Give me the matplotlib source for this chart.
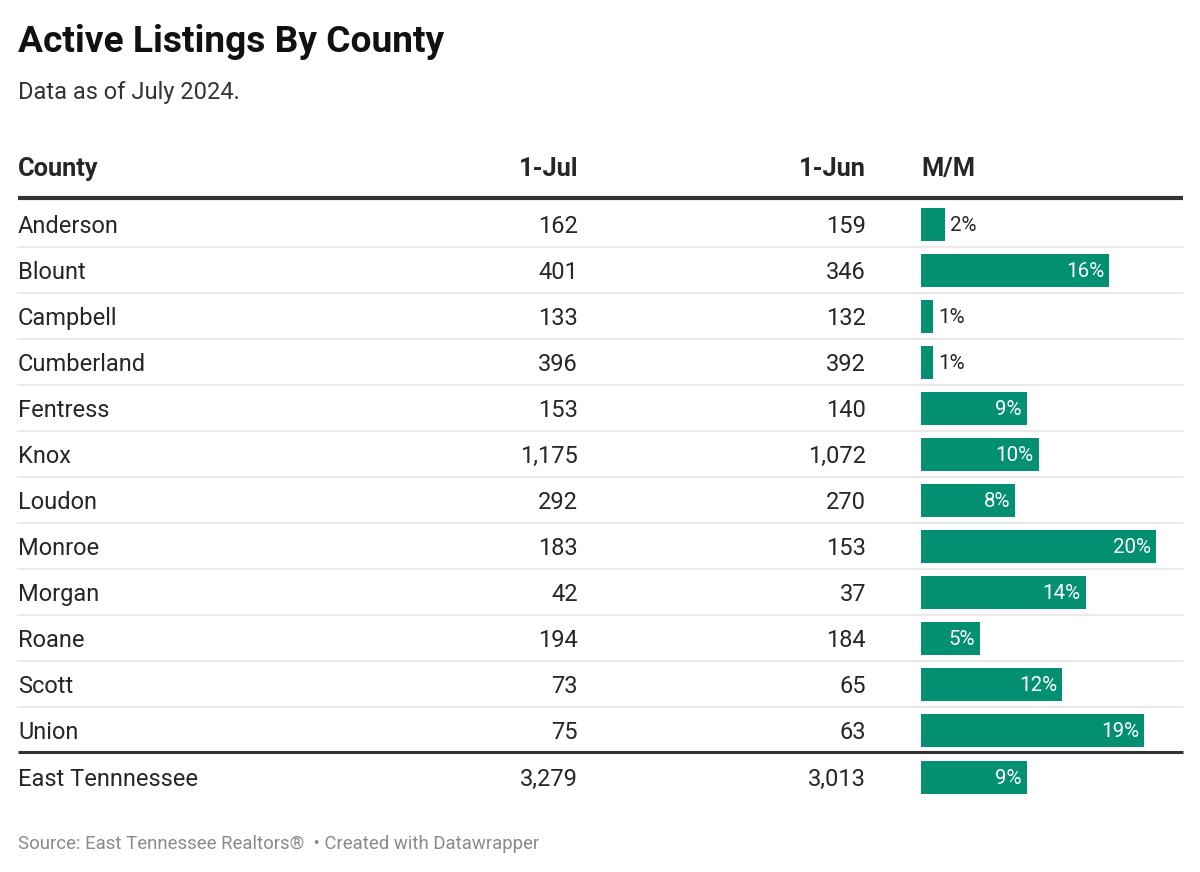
import matplotlib.pyplot as plt

plt.rcParams['font.family'] = ['Roboto', 'DejaVu Sans']

# data
counties = ["Anderson", "Blount", "Campbell", "Cumberland", "Fentress", "Knox",
            "Loudon", "Monroe", "Morgan", "Roane", "Scott", "Union"]
jul = [162, 401, 133, 396, 153, 1175, 292, 183, 42, 194, 73, 75]
jun = [159, 346, 132, 392, 140, 1072, 270, 153, 37, 184, 65, 63]
mm = [2, 16, 1, 1, 9, 10, 8, 20, 14, 5, 12, 19]
total_name = "East Tennnessee"
total_jul = 3279
total_jun = 3013
total_mm = 9
columns = ["County", "1-Jul", "1-Jun", "M/M"]

W, H = 1200, 872
fig = plt.figure(figsize=(W / 100, H / 100), dpi=100)
fig.patch.set_facecolor('white')

ax = fig.add_axes([0, 0, 1, 1])
ax.set_xlim(0, W)
ax.set_ylim(H, 0)
ax.axis('off')

# bar column: 0..20 % spans x 921..1156 px
bx0, bx1 = 921, 1156
bax = fig.add_axes([bx0 / W, 0, (bx1 - bx0) / W, 1])
bax.set_xlim(0, 20)
bax.set_ylim(H, 0)
bax.axis('off')

TXT = '#262626'
GREEN = '#038f72'
row0, step = 224, 46
x_name, x_jul, x_jun = 18, 578, 866
fs = 17

ax.text(18, 52, "Active Listings By County", fontsize=26.7, fontweight='bold',
        color='#111111', va='baseline')
ax.text(18, 99, "Data as of July 2024.", fontsize=17, color='#333333', va='baseline')

hy = 176
ax.text(x_name, hy, columns[0], fontsize=18.3, fontweight='bold', color=TXT, va='baseline')
ax.text(x_jul, hy, columns[1], fontsize=18.3, fontweight='bold', color=TXT, va='baseline', ha='right')
ax.text(x_jun, hy, columns[2], fontsize=18.3, fontweight='bold', color=TXT, va='baseline', ha='right')
ax.text(bx0, hy, columns[3], fontsize=18.3, fontweight='bold', color=TXT, va='baseline')
ax.plot([18, 1183], [198, 198], color='#333333', lw=3, solid_capstyle='butt')

names = counties + [total_name]
jvals = jul + [total_jul]
uvals = jun + [total_jun]
mvals = mm + [total_mm]

for i, (n, a, b, m) in enumerate(zip(names, jvals, uvals, mvals)):
    y = row0 + step * i
    if i == len(counties):
        y += 1
    ax.text(x_name, y + 8.5, n, fontsize=fs, color=TXT, va='baseline')
    ax.text(x_jul, y + 8.5, f"{a:,}", fontsize=fs, color=TXT, va='baseline', ha='right')
    ax.text(x_jun, y + 8.5, f"{b:,}", fontsize=fs, color=TXT, va='baseline', ha='right')
    bax.barh(y, m, height=33, color=GREEN, left=0)
    if m >= 4:
        bax.text(m - 0.42, y + 7.3, f"{m}%", fontsize=14.8, color='white',
                 va='baseline', ha='right')
    else:
        bax.text(m + 0.45, y + 7.3, f"{m}%", fontsize=14.8, color=TXT,
                 va='baseline', ha='left')
    if i < len(counties) - 1:
        ax.plot([18, 1183], [y + step / 2, y + step / 2], color='#e6e6e6', lw=1.2)

ax.plot([18, 1183], [752, 752], color='#333333', lw=2.2, solid_capstyle='butt')

ax.text(18, 849, "Source: East Tennessee Realtors®  • Created with Datawrapper",
        fontsize=13.4, color='#8a8a8a', va='baseline')

fig.savefig('out.png', dpi=100, facecolor='white')
